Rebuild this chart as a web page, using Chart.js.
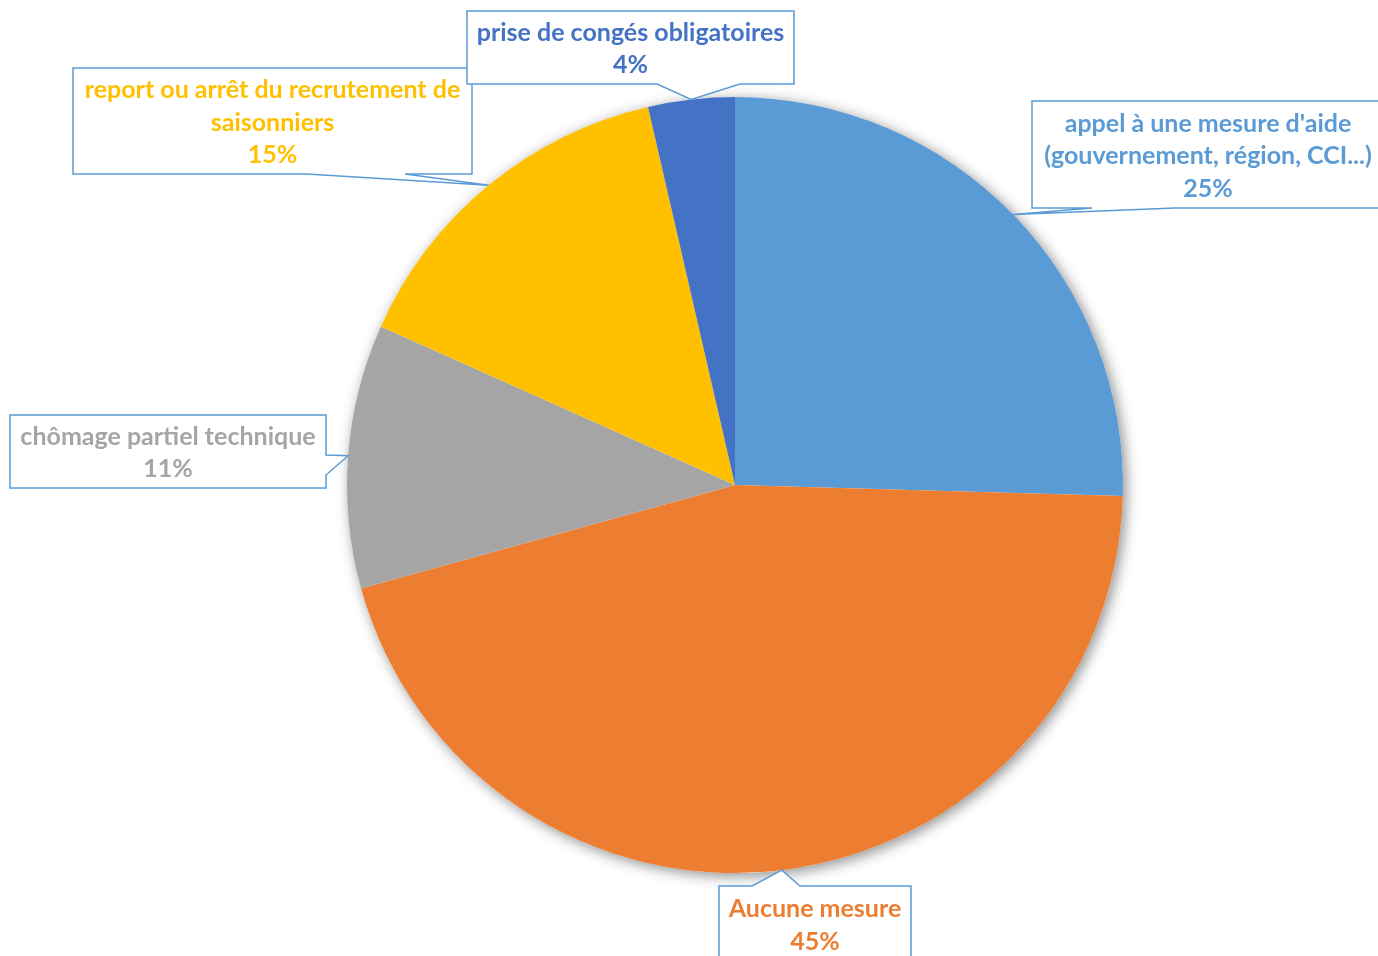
<!DOCTYPE html>
<html lang="fr">
<head>
<meta charset="utf-8">
<script src="https://cdn.jsdelivr.net/npm/chart.js@4/dist/chart.umd.min.js"></script>
<style>
  html, body { margin: 0; padding: 0; background: #fff; }
  #graphique { display: block; }
</style>
</head>
<body>
<canvas id="graphique" width="1378" height="956"></canvas>
<script>
// Données du graphique
const categories = [
    ["appel à une mesure d'aide", "(gouvernement, région, CCI...)"],
    ["Aucune mesure"],
    ["chômage partiel technique"],
    ["report ou arrêt du recrutement de", "saisonniers"],
    ["prise de congés obligatoires"]
];
const valeurs = [25.45, 45.25, 11.0, 14.7, 3.6];
const couleurs = ['#5B9BD5', '#ED7D31', '#A5A5A5', '#FFC000', '#4472C4'];

// Bulles des étiquettes (boîte + côté de la pointe + base de la pointe)
const bulles = [
    { x: 1032, y: 101, w: 352, h: 107, cote: 'bas', b1: 1092, b2: 1175 },
    { x: 719, y: 886, w: 192, h: 76, cote: 'haut', b1: 752, b2: 800 },
    { x: 10, y: 415, w: 316, h: 73, cote: 'droite', b1: 455, b2: 475 },
    { x: 73, y: 68, w: 399, h: 106, cote: 'bas', b1: 307, b2: 405 },
    { x: 467, y: 11, w: 327, h: 73, cote: 'bas', b1: 657, b2: 740 }
];

// Ombre portée sous le camembert
const ombre = {
    id: 'ombre',
    beforeDatasetsDraw(chart) {
        const arc = chart.getDatasetMeta(0).data[0];
        const ctx = chart.ctx;
        ctx.save();
        ctx.shadowColor = 'rgba(0, 0, 0, 0.45)';
        ctx.shadowBlur = 14;
        ctx.shadowOffsetX = 3;
        ctx.shadowOffsetY = 3;
        ctx.fillStyle = '#fff';
        ctx.beginPath();
        ctx.arc(arc.x, arc.y, arc.outerRadius, 0, Math.PI * 2);
        ctx.fill();
        ctx.restore();
    }
};

// Étiquettes en forme de bulle
const etiquettes = {
    id: 'etiquettes',
    afterDatasetsDraw(chart) {
        const ctx = chart.ctx;
        const meta = chart.getDatasetMeta(0);
        const data = chart.data.datasets[0].data;
        const total = data.reduce((a, b) => a + b, 0);

        meta.data.forEach((arc, i) => {
            const b = bulles[i];
            const milieu = (arc.startAngle + arc.endAngle) / 2;
            const px = arc.x + Math.cos(milieu) * arc.outerRadius;
            const py = arc.y + Math.sin(milieu) * arc.outerRadius;

            ctx.save();
            ctx.beginPath();
            ctx.moveTo(b.x, b.y);
            if (b.cote === 'haut') {
                ctx.lineTo(b.b1, b.y);
                ctx.lineTo(px, py);
                ctx.lineTo(b.b2, b.y);
            }
            ctx.lineTo(b.x + b.w, b.y);
            if (b.cote === 'droite') {
                ctx.lineTo(b.x + b.w, b.b1);
                ctx.lineTo(px, py);
                ctx.lineTo(b.x + b.w, b.b2);
            }
            ctx.lineTo(b.x + b.w, b.y + b.h);
            if (b.cote === 'bas') {
                ctx.lineTo(b.b2, b.y + b.h);
                ctx.lineTo(px, py);
                ctx.lineTo(b.b1, b.y + b.h);
            }
            ctx.lineTo(b.x, b.y + b.h);
            ctx.closePath();
            ctx.fillStyle = '#fff';
            ctx.fill();
            ctx.strokeStyle = '#5B9BD5';
            ctx.lineWidth = 1.5;
            ctx.stroke();

            // texte
            const lignes = chart.data.labels[i].concat([Math.round(data[i] / total * 100) + '%']);
            const hl = 32.5;
            let ty = b.y + b.h / 2 - (lignes.length - 1) * hl / 2 + 1.5;
            ctx.fillStyle = couleurs[i];
            ctx.font = 'bold 25px Lato, "Open Sans", sans-serif';
            ctx.textAlign = 'center';
            ctx.textBaseline = 'middle';
            lignes.forEach(l => {
                ctx.fillText(l, b.x + b.w / 2, ty);
                ty += hl;
            });
            ctx.restore();
        });
    }
};

new Chart(document.getElementById('graphique'), {
    type: 'pie',
    data: {
        labels: categories,
        datasets: [{
            data: valeurs,
            backgroundColor: couleurs,
            borderWidth: 0
        }]
    },
    options: {
        responsive: false,
        animation: false,
        layout: {
            padding: { left: 347, right: 255, top: 97, bottom: 83 }
        },
        plugins: {
            legend: { display: false },
            tooltip: { enabled: false }
        }
    },
    plugins: [ombre, etiquettes]
});
</script>
</body>
</html>
